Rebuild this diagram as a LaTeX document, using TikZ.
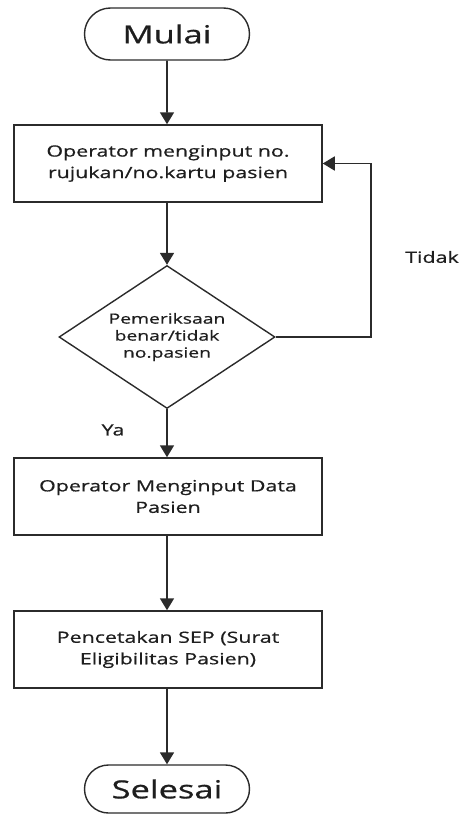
\documentclass[tikz,border=0pt]{standalone}
\usepackage{fontspec}
\setmainfont[FakeStretch=1.38,FakeBold=0.7]{Open Sans}
\usetikzlibrary{shapes.geometric,shapes.misc,arrows.meta}
\definecolor{linec}{HTML}{2B2B2B}
\definecolor{textc}{HTML}{1E1E1E}
\begin{document}
\begin{tikzpicture}[x=1pt,y=1pt,
 term/.style={draw=linec, line width=1.4pt, rounded rectangle, minimum width=165pt, minimum height=52pt, inner sep=0pt, font=\fontsize{25}{28}\selectfont, text=textc},
 proc/.style={draw=linec, line width=1.5pt, rectangle, minimum width=308pt, minimum height=77pt, align=center, font=\fontsize{15.5}{21.5}\selectfont, text=textc, inner sep=0pt},
 dec/.style={draw=linec, line width=1.4pt, diamond, aspect=1.51, minimum width=216pt, minimum height=143pt, inner sep=0pt, align=center, font=\fontsize{14}{17}\selectfont, text=textc},
 arr/.style={draw=linec, line width=1.8pt, -{Triangle[width=14pt,length=12pt]}},
 lbl/.style={font=\fontsize{15.5}{18}\selectfont, text=textc}]
\useasboundingbox (0,0) rectangle (463,-814);
\node[term] (mulai) at (167,-34) {Mulai};
\node[proc] (b1) at (168,-163.5) {Operator menginput no.\\rujukan/no.kartu pasien};
\node[dec] (dia) at (167,-337) {Pemeriksaan\\benar/tidak\\no.pasien};
\node[proc] (b2) at (168,-496.5) {Operator Menginput Data\\Pasien};
\node[proc] (b3) at (168,-649.5) {Pencetakan SEP (Surat\\Eligibilitas Pasien)};
\node[term, minimum height=48pt] (sel) at (167,-789) {Selesai};
\node[lbl] (tidak) at (432,-257) {Tidak};
\node[lbl] (ya) at (113,-430) {Ya};
\draw[arr] (mulai) -- (mulai |- b1.north);
\draw[arr] (b1.south -| mulai) -- (dia.north);
\draw[arr] (dia.south) -- (dia.south |- b2.north);
\draw[arr] (b2.south -| dia) -- (b3.north -| dia);
\draw[arr] (b3.south -| dia) -- (sel.north);
\draw[arr] (dia.east) -- ++(95,0) |- (b1.east);
\end{tikzpicture}
\end{document}
